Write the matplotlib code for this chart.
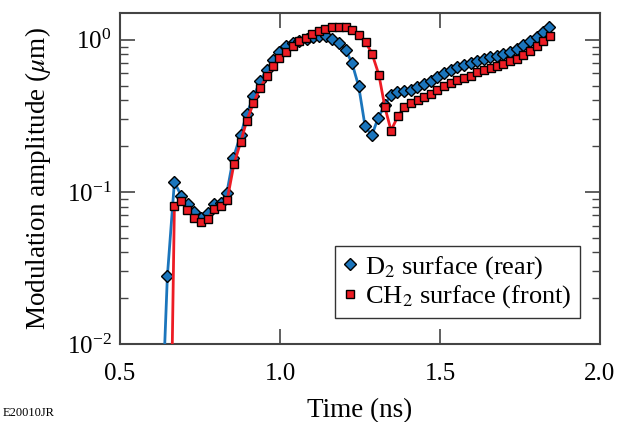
import matplotlib
matplotlib.use("Agg")
import matplotlib.pyplot as plt
from matplotlib.lines import Line2D
from matplotlib.ticker import LogLocator, NullFormatter

plt.rcParams["font.family"] = ["Liberation Serif", "DejaVu Serif"]
plt.rcParams["mathtext.fontset"] = "stix"

# ─────────────────────────────────────────────
# DATOS
# ─────────────────────────────────────────────
t_d2 = [0.627, 0.648, 0.670, 0.691, 0.712, 0.732, 0.753, 0.774, 0.795, 0.815,
        0.834, 0.854, 0.877, 0.896, 0.917, 0.938, 0.958, 0.979, 0.998, 1.019,
        1.040, 1.060, 1.083, 1.104, 1.123, 1.143, 1.163, 1.184, 1.205, 1.225,
        1.246, 1.266, 1.287, 1.307, 1.328, 1.346, 1.367, 1.388, 1.408, 1.429,
        1.450, 1.471, 1.491, 1.512, 1.533, 1.554, 1.575, 1.596, 1.616, 1.637,
        1.657, 1.677, 1.698, 1.719, 1.741, 1.760, 1.781, 1.802, 1.822, 1.842]
amp_d2 = [0.002, 0.0278, 0.116, 0.0946, 0.0830, 0.0735, 0.0678, 0.0724, 0.0830, 0.0843,
          0.0989, 0.167, 0.237, 0.324, 0.424, 0.532, 0.635, 0.731, 0.830, 0.904,
          0.951, 0.985, 1.011, 1.042, 1.051, 1.051, 1.011, 0.948, 0.859, 0.703,
          0.493, 0.269, 0.235, 0.308, 0.373, 0.435, 0.450, 0.457, 0.469, 0.487,
          0.508, 0.537, 0.568, 0.604, 0.635, 0.659, 0.682, 0.706, 0.728, 0.747,
          0.765, 0.785, 0.800, 0.825, 0.869, 0.923, 0.974, 1.042, 1.120, 1.208]

t_ch2 = [0.649, 0.670, 0.691, 0.710, 0.731, 0.752, 0.774, 0.794, 0.815, 0.835,
         0.856, 0.877, 0.896, 0.917, 0.938, 0.958, 0.979, 0.998, 1.019, 1.040,
         1.059, 1.080, 1.100, 1.121, 1.142, 1.163, 1.184, 1.205, 1.225, 1.247,
         1.268, 1.288, 1.309, 1.328, 1.347, 1.369, 1.388, 1.409, 1.430, 1.450,
         1.471, 1.492, 1.513, 1.533, 1.554, 1.575, 1.596, 1.617, 1.638, 1.658,
         1.677, 1.698, 1.719, 1.740, 1.760, 1.781, 1.802, 1.823, 1.844]
amp_ch2 = [0.0001, 0.0813, 0.0877, 0.0761, 0.0678, 0.0632, 0.0664, 0.0773, 0.0813, 0.0886,
           0.152, 0.212, 0.293, 0.383, 0.481, 0.574, 0.667, 0.758, 0.830, 0.904,
           0.974, 1.031, 1.092, 1.146, 1.171, 1.208, 1.208, 1.208, 1.164, 1.079,
           0.963, 0.805, 0.588, 0.359, 0.253, 0.316, 0.360, 0.382, 0.401, 0.420,
           0.441, 0.469, 0.493, 0.519, 0.540, 0.560, 0.580, 0.609, 0.628, 0.647,
           0.671, 0.692, 0.720, 0.750, 0.797, 0.847, 0.904, 0.985, 1.051]

AZUL = "#1b75bc"
ROJO = "#ed1c24"

fig = plt.figure(figsize=(6.34, 4.22), dpi=100)
ax = fig.add_axes([120 / 634, 1 - 344 / 422, 480 / 634, 331.5 / 422])

ax.plot(t_d2, amp_d2, color=AZUL, lw=2, marker="D", ms=6, mfc=AZUL,
        mec="black", mew=1.0, zorder=3)
ax.plot(t_ch2, amp_ch2, color=ROJO, lw=2, marker="s", ms=6, mfc=ROJO,
        mec="black", mew=1.0, zorder=4)

ax.set_yscale("log")
ax.set_xlim(0.5, 2.0)
ax.set_ylim(1e-2, 1.51)
ax.set_xticks([0.5, 1.0, 1.5, 2.0])
ax.set_xticklabels(["0.5", "1.0", "1.5", "2.0"])
ax.yaxis.set_major_locator(LogLocator(base=10, numticks=5))
ax.yaxis.set_minor_locator(LogLocator(base=10, subs=range(2, 10), numticks=20))
ax.yaxis.set_minor_formatter(NullFormatter())

ax.tick_params(axis="both", which="major", direction="in", length=11, width=1.2,
               labelsize=18, colors="#444444", labelcolor="black",
               top=True, right=True, pad=6)
ax.tick_params(axis="x", which="major", pad=14)
ax.tick_params(axis="y", which="minor", direction="in", length=6, width=1.0,
               colors="#444444", right=True)
for s in ax.spines.values():
    s.set_color("#444444")
    s.set_linewidth(1.5)

ax.set_xlabel("Time (ns)", fontsize=19.5, labelpad=9)
ax.set_ylabel(r"Modulation amplitude ($\mu$m)", fontsize=19.5, labelpad=10)

handles = [
    Line2D([], [], ls="none", marker="D", ms=6, mfc=AZUL, mec="black", mew=1.0),
    Line2D([], [], ls="none", marker="s", ms=6, mfc=ROJO, mec="black", mew=1.0),
]
leg = ax.legend(handles, [r"D$_2$ surface (rear)", r"CH$_2$ surface (front)"],
                loc="lower right", bbox_to_anchor=(0.958, 0.078), borderaxespad=0,
                fontsize=19, frameon=True, fancybox=False, handlelength=0.5,
                handletextpad=0.35, borderpad=0.3, labelspacing=0.1)
leg.get_frame().set_edgecolor("black")
leg.get_frame().set_linewidth(1.0)

fig.text(0.005, 0.006, "E20010JR", fontsize=9, va="bottom", ha="left")

fig.savefig("out.png", dpi=100)
